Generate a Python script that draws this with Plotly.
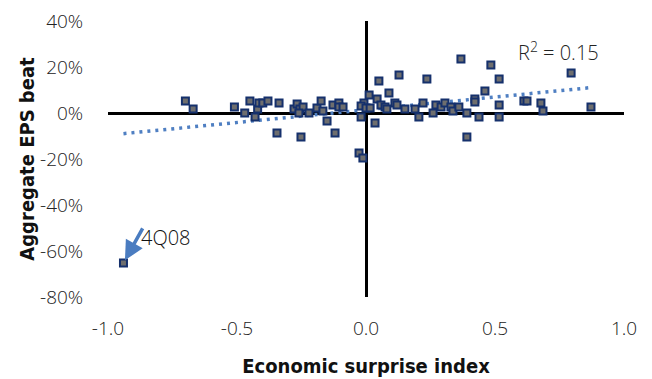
import numpy as np
import plotly.graph_objects as go

# Economic surprise index (x) and aggregate EPS beat in % (y)
surprise = [-0.94, -0.70, -0.67, -0.51, -0.47, -0.45, -0.42, -0.415, -0.40, -0.38,
            -0.43, -0.345, -0.337, -0.279, -0.267, -0.256, -0.244, -0.26, -0.252, -0.221,
            -0.19, -0.174, -0.167, -0.151, -0.128, -0.105, -0.105, -0.089, -0.12, -0.019,
            -0.027, -0.012, -0.008, 0.012, -0.019, 0.0, 0.043, 0.05, 0.016, 0.058,
            0.074, 0.081, 0.089, 0.128, 0.035, 0.112, 0.12, 0.151, 0.19, 0.205,
            0.221, 0.236, 0.26, 0.271, 0.291, 0.306, 0.329, 0.337, 0.36, 0.368,
            0.391, 0.391, 0.422, 0.422, 0.438, 0.461, 0.484, 0.516, 0.516, 0.516,
            0.612, 0.624, 0.678, 0.686, 0.795, 0.872]
eps_beat = [-65.2, 5.2, 1.7, 2.6, 0.0, 5.2, 1.7, 4.3, 4.3, 5.2,
            -1.7, -8.7, 4.3, 1.7, 3.9, 1.7, 2.6, 0.0, -10.4, 0.0,
            2.2, 5.2, 0.9, -3.5, 3.5, 4.3, 2.6, 2.6, -8.7, -1.7,
            -17.4, -19.6, 4.3, 7.8, 3.0, 2.2, 6.1, 13.9, 2.2, 3.5,
            2.6, 1.7, 8.7, 16.5, -4.3, 4.3, 3.5, 1.7, 1.7, -1.7,
            4.3, 14.8, 0.0, 3.5, 2.6, 4.3, 2.6, 0.9, 2.6, 23.5,
            -10.4, 0.0, 6.1, 4.8, -1.7, 9.6, 20.9, 14.8, 3.5, -1.7,
            5.2, 5.2, 4.3, 0.9, 17.4, 2.6]

x_ticks = [-1.0, -0.5, 0.0, 0.5, 1.0]
x_tick_labels = ["-1.0", "-0.5", "0.0", "0.5", "1.0"]
y_ticks = [40, 20, 0, -20, -40, -60, -80]
y_tick_labels = ["40%", "20%", "0%", "-20%", "-40%", "-60%", "-80%"]

r2_label = "R<sup>2</sup> = 0.15"
outlier_label = "4Q08"

xs = np.array(surprise)
ys = np.array(eps_beat)
slope, intercept = np.polyfit(xs, ys, 1)
trend_x = np.array([xs.min(), xs.max()])
trend_y = intercept + slope * trend_x

tick_font = dict(family="Open Sans, Lato, sans-serif", size=19, color="#222222", weight=300)
title_font = dict(family="Liberation Sans Narrow, DejaVu Sans Condensed, Arial Narrow, sans-serif",
                  size=20, color="#111111", weight="bold")

fig = go.Figure()
fig.add_trace(go.Scatter(
    x=trend_x, y=trend_y, mode="lines",
    line=dict(color="#4f7fc2", width=3.5, dash="3px,5px"),
    hoverinfo="skip", showlegend=False))
fig.add_trace(go.Scatter(
    x=surprise, y=eps_beat, mode="markers",
    marker=dict(symbol="square", size=7, color="#6e6e6e",
                line=dict(color="#15306c", width=2)),
    showlegend=False, cliponaxis=False))

i_out = int(np.argmin(ys))
fig.add_annotation(x=surprise[i_out], y=eps_beat[i_out], xref="x", yref="y",
                   ax=20, ay=-36, axref="pixel", ayref="pixel",
                   text="", showarrow=True, arrowhead=2, arrowsize=1.1,
                   arrowwidth=3.5, arrowcolor="#4a7cc0", standoff=3)
fig.add_annotation(x=surprise[i_out], y=eps_beat[i_out], xref="x", yref="y",
                   xshift=16, yshift=25, xanchor="left", yanchor="middle",
                   text=outlier_label, showarrow=False,
                   font=dict(family="Open Sans, Lato, sans-serif", size=20, color="#111111", weight=300))
fig.add_annotation(x=0.955, y=0.95, xref="paper", yref="paper",
                   xanchor="right", yanchor="top",
                   text=r2_label, showarrow=False,
                   font=dict(family="Open Sans, Lato, sans-serif", size=20, color="#222222", weight=300))

fig.update_xaxes(range=[-1.0, 1.0], tickvals=x_ticks, ticktext=x_tick_labels,
                 showgrid=False, zeroline=True, zerolinecolor="#000000", zerolinewidth=2.5,
                 showline=False, ticks="outside", ticklen=14, tickcolor="rgba(0,0,0,0)",
                 tickfont=tick_font, automargin=False,
                 title=dict(text="Economic surprise index", font=title_font, standoff=19))
fig.update_yaxes(range=[-80, 40], tickvals=y_ticks, ticktext=y_tick_labels,
                 showgrid=False, zeroline=True, zerolinecolor="#000000", zerolinewidth=2.5,
                 showline=False, ticks="outside", ticklen=20, tickcolor="rgba(0,0,0,0)",
                 tickfont=tick_font, automargin=False,
                 title=dict(text="Aggregate EPS beat", font=title_font, standoff=0))

fig.update_layout(width=652, height=379,
                  margin=dict(l=108, r=28, t=21, b=82),
                  plot_bgcolor="white", paper_bgcolor="white")

fig.write_html("out.html", config={"displayModeBar": False},
               post_script="document.body.style.margin='0';")
